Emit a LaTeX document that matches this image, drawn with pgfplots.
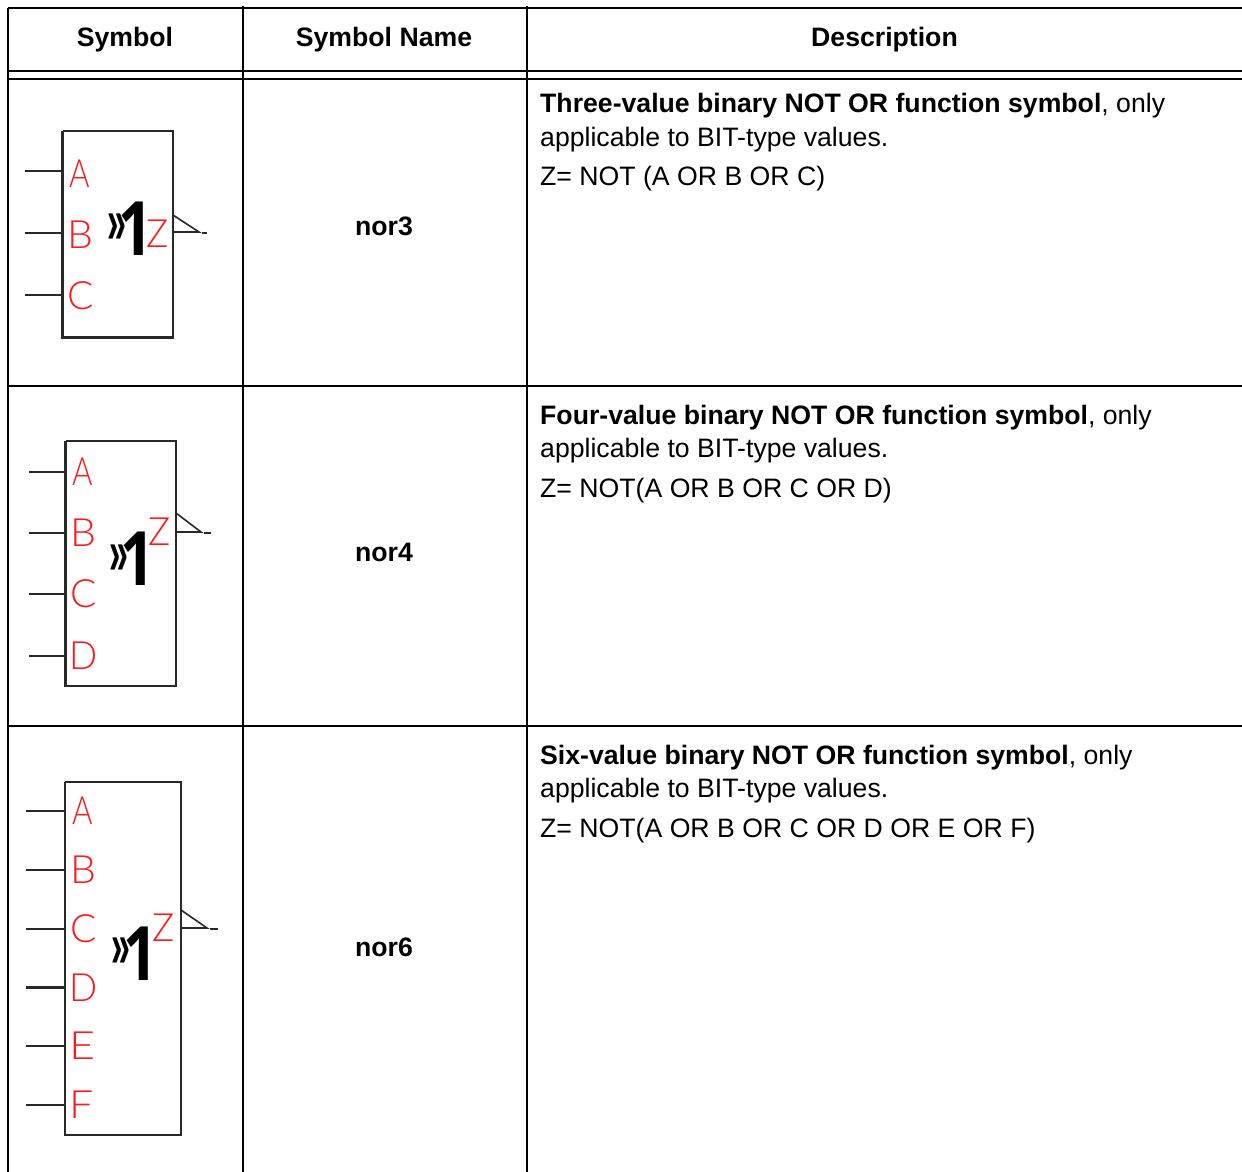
\documentclass[border=0pt]{standalone}
\usepackage{pgfplots}
\pgfplotsset{compat=1.18}
\usepackage{fontspec}
\setmainfont{Liberation Sans}
\newfontfamily\lightfont{Lato Light}
\newfontfamily\onefont{Open Sans}
\definecolor{pinred}{RGB}{255,25,25}
\definecolor{wire}{RGB}{40,40,40}
\newcommand{\tline}[1]{\addplot[black,line width=2.1pt,forget plot] coordinates {#1};}
\newcommand{\wline}[1]{\addplot[wire,line width=2.3pt,forget plot] coordinates {#1};}
\newcommand{\trig}[1]{\addplot[wire,line width=1.6pt,forget plot] coordinates {#1};}
\newcommand{\bodyfs}{\fontsize{26.65}{30}\selectfont}
\newcommand{\pin}[4][1.0]{\node[text=pinred,xscale=#1,transform shape,inner sep=0pt] at (axis cs:#2,#3) {\fontsize{39}{40}\selectfont\lightfont #4};}
\newcommand{\nrm}[2]{\node[inner sep=0pt,xscale=.8,transform shape] at (axis cs:#1,#2) {\fontsize{75}{76}\selectfont\onefont\bfseries 1};}
\newcommand{\chev}[2]{\node[inner sep=0pt,xscale=1.0,yscale=1.9,transform shape] at (axis cs:#1,#2) {\fontsize{34}{36}\selectfont\bfseries »};}
\newcommand{\txt}[3]{\node[anchor=base west,inner sep=0pt] at (axis cs:#1,#2) {\bodyfs #3};}
\newcommand{\ctr}[3]{\node[anchor=base,inner sep=0pt] at (axis cs:#1,#2) {\bodyfs\bfseries #3};}
\begin{document}
\begin{tikzpicture}
\begin{axis}[
  scale only axis, width=1242pt, height=1172pt,
  xmin=0, xmax=1242, ymin=0, ymax=1172, y dir=reverse,
  hide axis, clip=true]
% table rules
\tline{(8,8) (1242,8)}
\tline{(8,71) (1242,71)}
\tline{(8,79) (1242,79)}
\tline{(8,385.9) (1242,385.9)}
\tline{(8,726) (1242,726)}
\tline{(8,8) (8,1172)}
\tline{(243,6) (243,1172)}
\tline{(527,6) (527,1172)}
% header
\ctr{125}{47}{Symbol}
\ctr{384}{47}{Symbol Name}
\ctr{884.5}{47}{Description}
% names
\ctr{384}{235}{nor3}
\ctr{384}{561}{nor4}
\ctr{384}{956}{nor6}
% descriptions
\txt{540}{112}{\textbf{Three-value binary NOT OR function symbol}, only}
\txt{540}{146}{applicable to BIT-type values.}
\txt{540}{185}{Z= NOT (A OR B OR C)}
\txt{540}{424}{\textbf{Four-value binary NOT OR function symbol}, only}
\txt{540}{457}{applicable to BIT-type values.}
\txt{540}{497}{Z= NOT(A OR B OR C OR D)}
\txt{540}{764}{\textbf{Six-value binary NOT OR function symbol}, only}
\txt{540}{797}{applicable to BIT-type values.}
\txt{540}{837}{Z= NOT(A OR B OR C OR D OR E OR F)}
% nor3
\wline{(62.5,131) (173,131) (173,337.5) (62.5,337.5) (62.5,131)}
\wline{(25,171) (62,171)}
\wline{(25,233) (62,233)}
\wline{(25,295) (62,295)}
\trig{(173,215) (199,232) (173,232)}
\trig{(202,233) (207,233)}
\pin[.8]{80}{174}{A}\pin[1.05]{80}{235}{B}\pin[1.0]{81}{296}{C}\pin[.95]{158}{234}{Z}
\nrm{136}{228.5}\chev{117}{229}
% nor4
\wline{(65.5,441) (176,441) (176,686) (65.5,686) (65.5,441)}
\wline{(29,472) (65.5,472)}
\wline{(29,533) (65.5,533)}
\wline{(29,594) (65.5,594)}
\wline{(29,656) (65.5,656)}
\trig{(176,513) (201,532) (176,532)}
\trig{(204,533) (211,533)}
\pin[.8]{83}{472}{A}\pin[1.05]{83}{533}{B}\pin[1.0]{84}{594}{C}\pin[.95]{84}{656}{D}\pin[.95]{160}{532}{Z}
\nrm{138}{559}\chev{119}{560}
% nor6
\wline{(65,782) (181,782) (181,1135) (65,1135) (65,782)}
\wline{(26,811) (65,811)}
\wline{(26,870) (65,870)}
\wline{(26,929) (65,929)}
\wline{(26,987.5) (65,987.5)}
\wline{(26,1046) (65,1046)}
\wline{(26,1105) (65,1105)}
\trig{(181,910) (207,928) (181,928)}
\trig{(210,929) (218,929)}
\pin[.8]{83}{811}{A}\pin[1.05]{83}{870}{B}\pin[1.0]{84}{929}{C}\pin[.95]{84}{988}{D}\pin[1.15]{83}{1046}{E}\pin[1.1]{82}{1105}{F}\pin[.95]{163.5}{928}{Z}
\nrm{141}{954}\chev{121}{953}
\end{axis}
\pgfresetboundingbox
\path[use as bounding box] (current axis.south west) rectangle (current axis.north east);
\end{tikzpicture}
\end{document}
